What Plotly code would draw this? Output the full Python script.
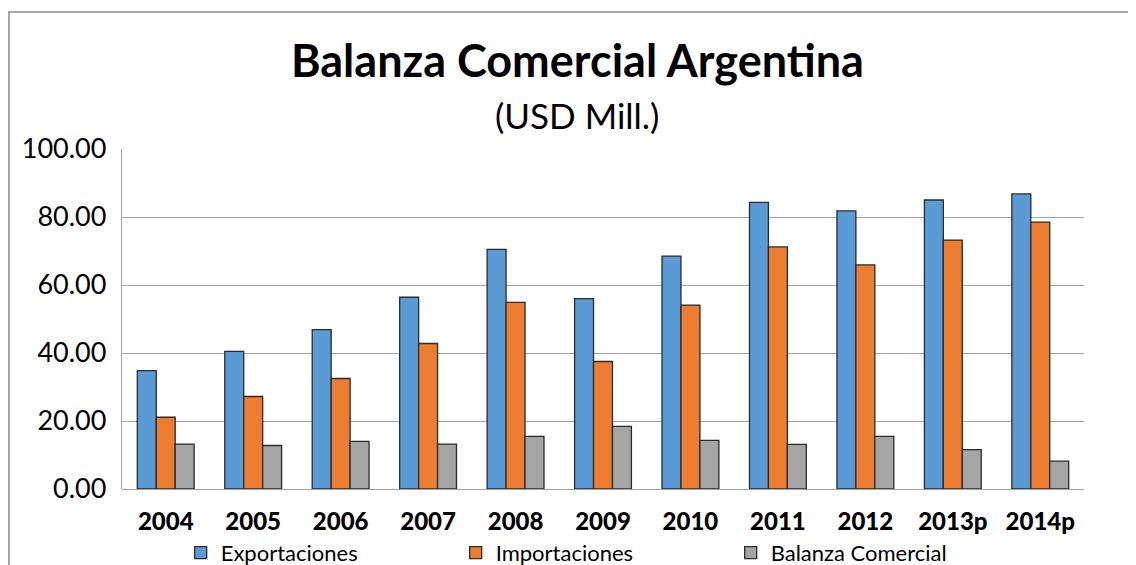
import plotly.graph_objects as go

years = ["2004", "2005", "2006", "2007", "2008", "2009", "2010", "2011", "2012", "2013p", "2014p"]
exportaciones = [34.8, 40.5, 46.9, 56.4, 70.5, 56.0, 68.5, 84.3, 81.8, 85.0, 86.8]
importaciones = [21.1, 27.2, 32.5, 42.8, 54.9, 37.5, 54.1, 71.2, 65.9, 73.2, 78.5]
balanza = [13.2, 12.8, 14.0, 13.2, 15.5, 18.4, 14.3, 13.1, 15.5, 11.6, 8.2]

FONT = "Lato"
outline = dict(color="#2b2b2b", width=1.3)

fig = go.Figure()
fig.add_trace(go.Bar(x=years, y=exportaciones, name="Exportaciones",
                     marker=dict(color="#5B9BD5", line=outline)))
fig.add_trace(go.Bar(x=years, y=importaciones, name="Importaciones",
                     marker=dict(color="#ED7D31", line=outline)))
fig.add_trace(go.Bar(x=years, y=balanza, name="Balanza Comercial",
                     marker=dict(color="#A5A5A5", line=outline)))

# page body has an 8px offset, so margins are shifted by 8px
fig.update_layout(
    width=1136, height=565,
    margin=dict(l=114, r=60, t=141, b=84, autoexpand=False),
    paper_bgcolor="white", plot_bgcolor="white",
    font=dict(family=FONT, color="#000000"),
    barmode="group", bargap=0.35, bargroupgap=0,
    showlegend=True,
    legend=dict(orientation="h", x=0.061, xanchor="left", y=-0.188, yanchor="middle",
                font=dict(size=22, family=FONT), entrywidth=230, entrywidthmode="pixels",
                itemwidth=30, tracegroupgap=0, bgcolor="rgba(0,0,0,0)"),
    xaxis=dict(showgrid=False, showline=False, ticks="",
               tickfont=dict(size=24, family=FONT + " Black"), ticklabelstandoff=16),
    yaxis=dict(range=[0, 100], dtick=20, tickformat=".2f", showgrid=True,
               gridcolor="#a3a3a3", gridwidth=1.3, showline=True, linecolor="#a3a3a3",
               linewidth=1.3, zeroline=True, zerolinecolor="#a3a3a3", zerolinewidth=1.3,
               tickfont=dict(size=27, family=FONT), ticks="", ticklabelstandoff=9),
    annotations=[
        dict(text="<b>Balanza Comercial Argentina</b>", xref="paper", yref="paper",
             x=0.473, y=1.261, xanchor="center", yanchor="middle", showarrow=False,
             font=dict(size=45, family=FONT)),
        dict(text="(USD Mill.)", xref="paper", yref="paper",
             x=0.473, y=1.1, xanchor="center", yanchor="middle", showarrow=False,
             font=dict(size=35, family=FONT)),
    ],
    shapes=[
        dict(type="rect", xref="paper", yref="paper", x0=-0.1175, x1=1.3, y0=-0.6, y1=1.403,
             line=dict(color="#8c8c8c", width=1.5), fillcolor="rgba(0,0,0,0)", layer="below"),
    ],
)

fig.write_html("out.html")
